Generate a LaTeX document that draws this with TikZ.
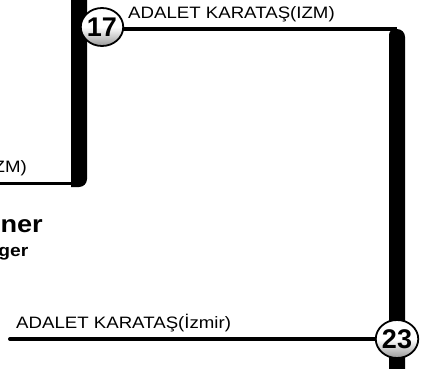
\documentclass[tikz,border=0pt]{standalone}
\usepackage{graphicx}
\usepackage{fontspec}
\setmainfont{Liberation Sans}
\usetikzlibrary{shapes.geometric,backgrounds}
\begin{document}
\begin{tikzpicture}[x=1pt,y=1pt,
  seed/.style={ellipse, draw=black, line width=1.8pt, minimum width=42pt, minimum height=38pt,
    inner sep=0pt, top color=white, bottom color=black!40, middle color=white,
    font=\fontsize{27}{27}\selectfont\bfseries},
  lbl/.style={inner sep=0pt, font=\fontsize{16.5}{18}\selectfont},
  wire/.style={line width=3.5pt},
  bar/.style={fill=black}]
\useasboundingbox (0,0) rectangle (430,368);
% seeds
\node[seed] (s17) at (102,341) {17};
\node[seed] (s23) at (397,29) {23};
% coordinates
\coordinate (rturn) at (397,339);
\coordinate (c17) at (102,339);
\coordinate (lh) at (-3,184.5);
\coordinate (lcorner) at (79,184.5);
\coordinate (bl) at (10,29);
\begin{pgfonlayer}{background}
  % left thick bar
  \fill[bar] (71,373) -- (71,181) -- (79,181) arc[start angle=-90,end angle=0,radius=8] -- (87,373) -- cycle;
  % right thick bar
  \fill[bar] (389,-5) -- (389,333) arc[start angle=180,end angle=90,radius=6] -- (397,339)
     arc[start angle=90,end angle=0,radius=8] -- (405,-5) -- cycle;
  \draw[wire] (lh) -- (lcorner);
  \draw[wire] (c17) -- (rturn);
  \draw[wire, line width=4pt, line cap=round] (bl) -- (s23);
\end{pgfonlayer}
% labels
\node[lbl, anchor=base west] (t1) at (128,350) {\scalebox{1.13}[1]{ADALET KARATAŞ(IZM)}};
\node[lbl, anchor=base west] (t2) at (16,39.5) {\scalebox{1.13}[1]{ADALET KARATAŞ(İzmir)}};
\node[lbl, anchor=base east] (t3) at (27,196) {\scalebox{1.13}[1]{ZM)}};
\node[inner sep=0pt, anchor=base east, font=\fontsize{24}{24}\selectfont\bfseries] (t4) at (43,136) {\scalebox{1.13}[1]{ner}};
\node[inner sep=0pt, anchor=base east, font=\fontsize{17}{17}\selectfont\bfseries] (t5) at (28.5,112) {\scalebox{1.13}[1]{ger}};
\end{tikzpicture}
\end{document}
